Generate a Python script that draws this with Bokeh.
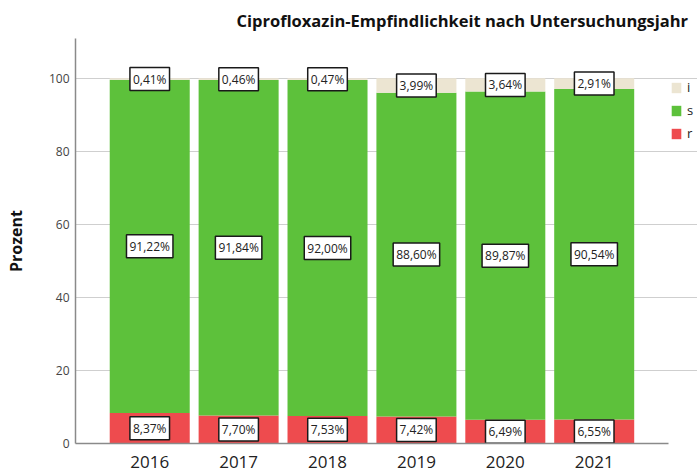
from bokeh.plotting import figure
from bokeh.models import (ColumnDataSource, Range1d, Legend, LegendItem, FixedTicker)
from bokeh.core.properties import value
from bokeh.embed import file_html
from bokeh.resources import INLINE

years = ["2016", "2017", "2018", "2019", "2020", "2021"]
r_vals = [8.37, 7.70, 7.53, 7.42, 6.49, 6.55]
s_vals = [91.22, 91.84, 92.00, 88.60, 89.87, 90.54]
i_vals = [0.41, 0.46, 0.47, 3.99, 3.64, 2.91]
y_ticks = [0, 20, 40, 60, 80, 100]
title_text = "Ciprofloxazin-Empfindlichkeit nach Untersuchungsjahr"

col_r = "#EE4B4E"
col_s = "#5DC13B"
col_i = "#ECE5D2"
FONT = "Open Sans"


def fmt(v):
    return ("%.2f" % v).replace(".", ",") + "%"


idx = list(range(len(years)))
src = ColumnDataSource(dict(x=idx, years=years, r=r_vals, s=s_vals, i=i_vals))

pad = 0.835
p = figure(x_range=Range1d(-pad, len(years) - 1 + pad + 0.327),
           y_range=Range1d(0, 110.9),
           width=697, height=473, output_backend="svg", toolbar_location=None,
           min_border_left=75, min_border_right=0, min_border_top=37, min_border_bottom=30,
           title=title_text)

rends = p.vbar_stack(["r", "s", "i"], x="x", width=0.9, source=src,
                     color=[col_r, col_s, col_i], line_color=None)

# labels
lab_x, lab_y, lab_t = [], [], []
for k in idx:
    r, s, i = r_vals[k], s_vals[k], i_vals[k]
    lab_x += [k, k, k]
    lab_y += [r / 2, r + s / 2, r + s + i / 2]
    lab_t += [fmt(r), fmt(s), fmt(i)]
lsrc = ColumnDataSource(dict(x=lab_x, y=lab_y, t=lab_t))
p.text(x="x", y="y", text="t", source=lsrc, text_align="center",
       text_baseline="middle", text_font=value(FONT), text_font_size="12px",
       text_color="#222222", background_fill_color="white",
       border_line_color="#1a1a1a", border_line_width=1.5, padding=3)

# title
p.title.text_font = FONT
p.title.text_font_size = "16.5px"
p.title.text_font_style = "bold"
p.title.text_color = "#111111"
p.title.align = "left"
p.title.offset = 161
p.title.standoff = 13

# axes
p.outline_line_color = None
p.xgrid.grid_line_color = None
p.ygrid.grid_line_color = "#cfcfcf"
p.ygrid.grid_line_width = 1

p.yaxis.ticker = FixedTicker(ticks=y_ticks)
p.yaxis.axis_line_color = "#8a8a8a"
p.yaxis.axis_line_width = 1.5
p.yaxis.major_tick_line_color = None
p.yaxis.minor_tick_line_color = None
p.yaxis.major_tick_out = 0
p.yaxis.major_tick_in = 0
p.yaxis.major_label_standoff = 6
p.yaxis.major_label_text_font = FONT
p.yaxis.major_label_text_font_size = "12px"
p.yaxis.major_label_text_color = "#444444"
p.yaxis.axis_label = "Prozent"
p.yaxis.axis_label_text_font = FONT
p.yaxis.axis_label_text_font_size = "16px"
p.yaxis.axis_label_text_font_style = "bold"
p.yaxis.axis_label_text_color = "#111111"
p.yaxis.axis_label_standoff = 19

p.xaxis.ticker = FixedTicker(ticks=idx)
p.xaxis.major_label_overrides = {k: y for k, y in zip(idx, years)}
p.xaxis.bounds = (-pad, len(years) - 1 + pad)
p.xaxis.axis_line_color = "#8a8a8a"
p.xaxis.axis_line_width = 1.5
p.xaxis.major_tick_line_color = None
p.xaxis.minor_tick_line_color = None
p.xaxis.major_tick_out = 0
p.xaxis.major_tick_in = 0
p.xaxis.major_label_standoff = 12
p.xaxis.major_label_text_font = FONT
p.xaxis.major_label_text_font_size = "17px"
p.xaxis.major_label_text_color = "#222222"

legend = Legend(items=[LegendItem(label="i", renderers=[rends[2]]),
                       LegendItem(label="s", renderers=[rends[1]]),
                       LegendItem(label="r", renderers=[rends[0]])],
                location=(595, 301), glyph_width=12, glyph_height=13, label_height=13,
                spacing=5, padding=0, margin=0, border_line_color=None,
                background_fill_alpha=0, label_text_font=FONT, label_text_font_size="13px",
                label_standoff=5, label_text_color="#222222")
p.add_layout(legend)

open("out.html", "w").write(file_html(p, INLINE))
